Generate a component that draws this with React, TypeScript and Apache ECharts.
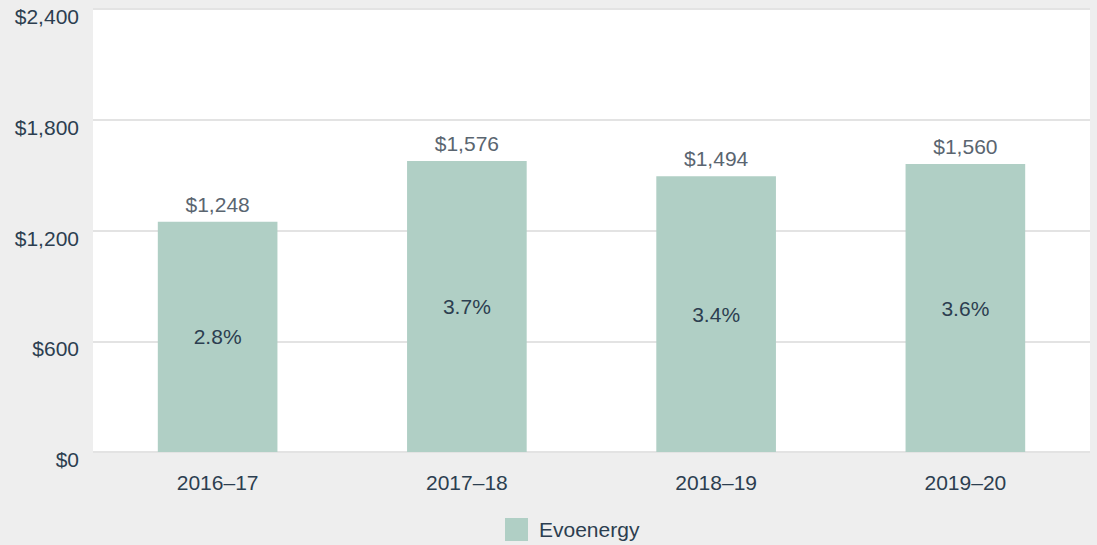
import React, { useEffect, useRef } from "react";
import * as echarts from "echarts";

const categories = ["2016–17", "2017–18", "2018–19", "2019–20"];
const values = [1248, 1576, 1494, 1560];
const shares = ["2.8%", "3.7%", "3.4%", "3.6%"];
const yTicks = [0, 600, 1200, 1800, 2400];
const seriesName = "Evoenergy";

const FONT = "'Liberation Sans', Arial, Helvetica, sans-serif";
const DARK = "#2c3e50";
const FS = 21;

export default function App() {
  const ref = useRef<HTMLDivElement>(null);
  useEffect(() => {
    document.body.style.margin = "0";
    document.body.style.background = "#eeeeee";
    const chart = echarts.init(ref.current!, null, { renderer: "svg" });
    chart.setOption({
      animation: false,
      backgroundColor: "#eeeeee",
      textStyle: { fontFamily: FONT },
      grid: {
        left: 93,
        right: 7,
        top: 9,
        bottom: 93,
        show: true,
        backgroundColor: "#ffffff",
        borderWidth: 0,
      },
      legend: {
        data: [{ name: seriesName, icon: "rect" }],
        left: 500,
        top: 513,
        itemWidth: 23,
        itemHeight: 23,
        textStyle: { fontSize: FS, color: DARK, fontFamily: FONT, padding: [0, 0, 0, 6] },
      },
      xAxis: {
        type: "category",
        data: categories,
        axisLine: { show: false },
        axisTick: { show: false },
        axisLabel: { fontSize: FS, color: DARK, margin: 20, fontFamily: FONT },
      },
      yAxis: {
        type: "value",
        min: yTicks[0],
        max: yTicks[yTicks.length - 1],
        interval: 600,
        axisLine: { show: false },
        axisTick: { show: false },
        splitLine: { lineStyle: { color: "#e3e3e3", width: 2 } },
        axisLabel: {
          fontSize: FS,
          color: DARK,
          margin: 14,
          verticalAlign: "top",
          lineHeight: 15,
          fontFamily: FONT,
          formatter: (v: number) => "$" + v.toLocaleString("en-US"),
        },
      },
      series: [
        {
          name: seriesName,
          type: "bar",
          data: values,
          barWidth: "48%",
          itemStyle: { color: "#b0cfc5" },
          label: {
            show: true,
            position: "inside",
            fontSize: FS,
            color: DARK,
            fontFamily: FONT,
            formatter: (p: any) => shares[p.dataIndex],
          },
        },
        {
          name: "values",
          type: "bar",
          data: values,
          barWidth: "48%",
          barGap: "-100%",
          itemStyle: { color: "rgba(0,0,0,0)" },
          silent: true,
          label: {
            show: true,
            position: "top",
            distance: 7,
            fontSize: FS,
            color: "#5a6570",
            fontFamily: FONT,
            formatter: (p: any) => "$" + (p.value as number).toLocaleString("en-US"),
          },
        },
      ],
    });
    return () => chart.dispose();
  }, []);
  return <div ref={ref} style={{ width: 1097, height: 545 }} />;
}
